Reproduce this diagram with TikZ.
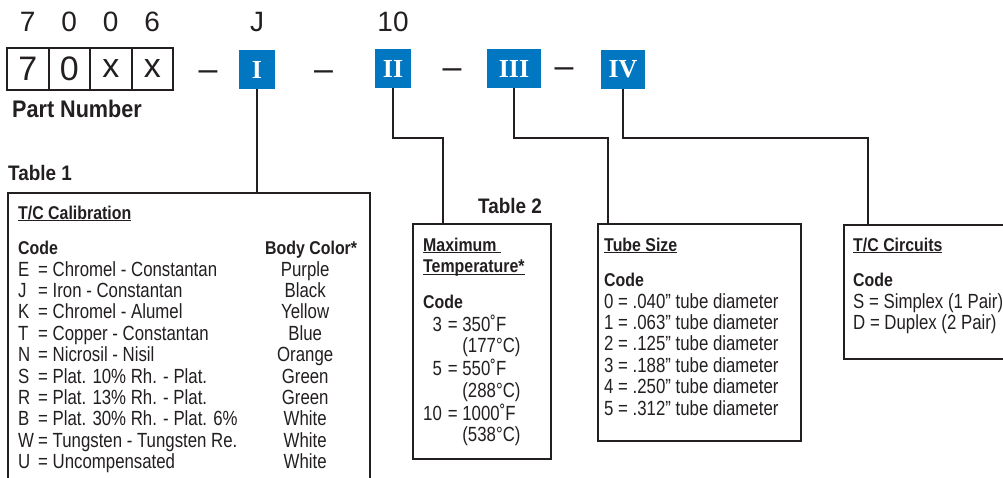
\documentclass[tikz,border=0pt]{standalone}
\usepackage{fontspec}
\setmainfont{Liberation Sans}[FakeStretch=0.82]
\newfontfamily\hdfont{Liberation Sans}[FakeStretch=0.9]
\newfontfamily\tabhdfont{Liberation Sans}[FakeStretch=0.86]
\newfontfamily\digitfont{Liberation Sans}
\newfontfamily\romfont{Liberation Serif}
\usetikzlibrary{positioning}

\definecolor{tcblue}{RGB}{0,119,192}
\definecolor{ink}{RGB}{35,31,32}

\newcommand\hd[1]{{\tabhdfont\bfseries\fontsize{18.5}{21.4}\selectfont #1}}
\newcommand\ttl[1]{\underline{\smash{\hd{#1}}}}
\newcommand\cd[1]{\makebox[20pt][l]{#1}}
\newcommand\bc[1]{\makebox[80pt][c]{#1}}

\begin{document}
\begin{tikzpicture}[x=1pt, y=1pt, color=ink]
  \tikzset{cell/.style={draw,line width=2pt,minimum width=41.5pt,minimum height=42pt,inner sep=0pt,outer sep=0pt,font=\digitfont\fontsize{34}{34}\selectfont},
    digit/.style={inner sep=0pt,font=\digitfont\fontsize{28}{28}\selectfont},
    dashmark/.style={anchor=base,inner sep=0pt,font=\digitfont\fontsize{34}{34}\selectfont},
    numbox/.style={fill=tcblue,text=white,minimum width=#1,minimum height=39pt,inner sep=0pt,font=\romfont\bfseries\fontsize{26}{26}\selectfont},
    tbox/.style={draw,line width=2pt,anchor=north west,inner sep=0pt},
    txt/.style={anchor=base west,inner sep=0pt,font=\fontsize{20.5}{21.4}\selectfont},
    head/.style={anchor=base west,inner sep=0pt,font=\hdfont\bfseries\fontsize{#1}{#1}\selectfont},
    wire/.style={line width=2pt}}

  \useasboundingbox (0,0) rectangle (1003,-477);

  % part number
  \node [cell] (c1) at (27.75,-69) {7};
  \node [cell, right=0pt of c1] (c2) {0};
  \node [cell, right=0pt of c2] (c3) {x};
  \node [cell, right=0pt of c3] (c4) {x};
  \node [digit, above=16pt of c1] (n1) {7};
  \node [digit, above=16pt of c2] (n2) {0};
  \node [digit, above=16pt of c3] (n3) {0};
  \node [digit, above=16pt of c4] (n4) {6};
  \node [head=24] (pn) at (12,-117) {Part Number};

  % code boxes
  \node [numbox=36pt] (I) at (257,-69.5) {I};
  \node [numbox=36pt] (II) at (393,-68.5) {II};
  \node [numbox=54pt] (III) at (514,-68.5) {III};
  \node [numbox=44pt] (IV) at (623,-69.5) {IV};
  \node [digit, above=18pt of I] (nJ) {J};
  \node [digit, above=17pt of II] (n10) {10};

  \node [dashmark] (s1) at (208,-80) {–};
  \node [dashmark] (s2) at (323.5,-80) {–};
  \node [dashmark] (s3) at (452,-78) {–};
  \node [dashmark] (s4) at (564,-77) {–};

  % tables
  \node [tbox, minimum width=362pt, minimum height=320pt] (tab1) at (7,-192) {};
  \node [tbox, minimum width=138pt, minimum height=235pt] (tab2) at (412,-223) {};
  \node [tbox, minimum width=203pt, minimum height=217pt] (tube) at (597,-223) {};
  \node [tbox, minimum width=200pt, minimum height=134pt] (circ) at (843,-224) {};

  \node [head=21] (h1) at (8,-180) {Table 1};
  \node [head=21] (h2) at (478,-213) {Table 2};

  \coordinate (k2) at (443,-138);
  \coordinate (k3) at (608,-138);
  \coordinate (k4) at (868,-138);
  \draw [wire] (I.south) -- (I.south |- tab1.north);
  \draw [wire] (II.south) |- (k2) -- (k2 |- tab2.north);
  \draw [wire] (III.south) |- (k3) -- (k3 |- tube.north);
  \draw [wire] (IV.south) |- (k4) -- (k4 |- circ.north);

  \node [txt] (cal) at (18,-219) {\begin{tabular}[t]{@{}p{247pt}@{}l@{}}
    \multicolumn{2}{@{}l}{\ttl{T/C Calibration}}\\[14.3pt]
    \hd{Code} & \hd{Body Color*}\\
    \cd{E}= Chromel - Constantan & \bc{Purple}\\
    \cd{J}= Iron - Constantan & \bc{Black}\\
    \cd{K}= Chromel - Alumel & \bc{Yellow}\\
    \cd{T}= Copper - Constantan & \bc{Blue}\\
    \cd{N}= Nicrosil - Nisil & \bc{Orange}\\
    \cd{S}= Plat. 10\% Rh. - Plat. & \bc{Green}\\
    \cd{R}= Plat. 13\% Rh. - Plat. & \bc{Green}\\
    \cd{B}= Plat. 30\% Rh. - Plat. 6\% & \bc{White}\\
    \cd{W}= Tungsten - Tungsten Re. & \bc{White}\\
    \cd{U}= Uncompensated & \bc{White}
  \end{tabular}};

  \node [txt] (temp) at (423,-251) {\begin{tabular}[t]{@{}r@{\hspace{6pt}}l@{}}
    \multicolumn{2}{@{}l}{\ttl{Maximum\ }}\\
    \multicolumn{2}{@{}l}{\ttl{Temperature*}}\\[14.6pt]
    \multicolumn{2}{@{}l}{\hd{Code}}\\
    3 & = 350˚F\\
      & \phantom{= }(177°C)\\
    5 & = 550˚F\\
      & \phantom{= }(288°C)\\
    10 & = 1000˚F\\
      & \phantom{= }(538°C)
  \end{tabular}};

  \node [txt] (size) at (604,-251) {\begin{tabular}[t]{@{}l@{}}
    \ttl{Tube Size}\\[14.3pt]
    \hd{Code}\\
    \makebox[14pt][l]{0}= .040” tube diameter\\
    \makebox[14pt][l]{1}= .063” tube diameter\\
    \makebox[14pt][l]{2}= .125” tube diameter\\
    \makebox[14pt][l]{3}= .188” tube diameter\\
    \makebox[14pt][l]{4}= .250” tube diameter\\
    \makebox[14pt][l]{5}= .312” tube diameter
  \end{tabular}};

  \node [txt] (circuits) at (853,-251) {\begin{tabular}[t]{@{}l@{}}
    \ttl{T/C Circuits}\\[14.3pt]
    \hd{Code}\\
    S = Simplex (1 Pair)\\
    D = Duplex (2 Pair)
  \end{tabular}};
\end{tikzpicture}
\end{document}
